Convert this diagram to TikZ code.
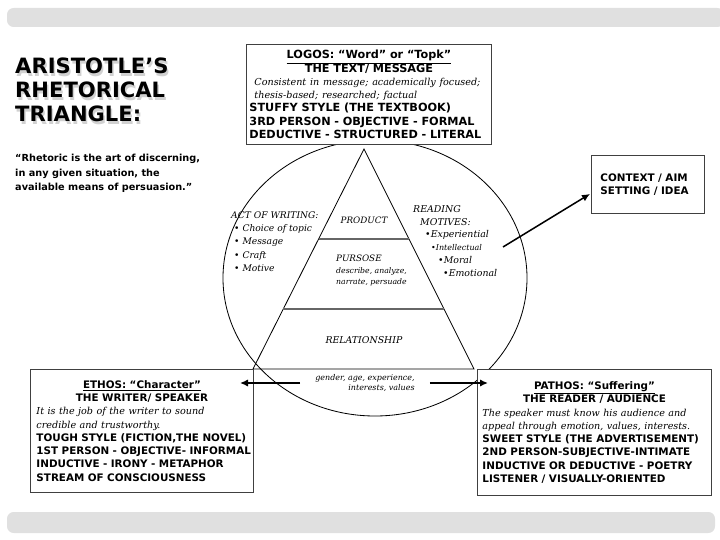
\documentclass[tikz,border=0pt]{standalone}
\usepackage{fontspec}
\usepackage{tikz}
\usetikzlibrary{arrows.meta,calc}

\newfontfamily\heavy{DejaVu Sans}
\newfontfamily\serifit{DejaVu Serif}
\newcommand{\boxfont}{\heavy\bfseries\fontsize{9.6}{11.3}\selectfont}
\newcommand{\smallbox}{\heavy\bfseries\fontsize{8.85}{11.3}\selectfont}
\newcommand{\boxit}{\serifit\mdseries\itshape\fontsize{8.2}{11.3}\selectfont}
\newcommand{\nbl}[1]{\mbox{#1}}

\begin{document}
\begin{tikzpicture}[x=0.03cm, y=-0.03cm,
  band/.style={fill=black!12, rounded corners=0.2cm},
  infobox/.style={draw=black!75, fill=white, line width=0.8pt, anchor=north west, inner ysep=0pt, font=\boxfont},
  title/.style={anchor=north west, align=left, inner sep=0pt, font=\heavy\bfseries\fontsize{18}{20.4}\selectfont},
  tritext/.style={inner sep=0pt, font=\serifit\itshape\fontsize{7.5}{9}\selectfont},
  arrow/.style={-{Latex[length=2.4mm, width=2.2mm]}, line width=1.3pt},
]
\useasboundingbox (0,0) rectangle (720,540);

% slide bands
\fill[band] (7,8) rectangle (724,27);
\fill[band] (7,512) rectangle (715,533);

% title and quote
\node[title, text=black!18] (titleshadow) at (16.5,60.5) {ARISTOTLE’S\\RHETORICAL\\TRIANGLE:};
\node[title] (title) at (15,58) {ARISTOTLE’S\\RHETORICAL\\TRIANGLE:};
\node[anchor=north west, align=left, inner sep=0pt, font=\heavy\bfseries\fontsize{8.3}{12.3}\selectfont] (quote) at (15,154)
  {“Rhetoric is the art of discerning,\\in any given situation, the\\available means of persuasion.”};

% ellipse and triangle
\draw[line width=0.7pt] (375,278) ellipse [x radius=4.56cm, y radius=4.14cm];
\coordinate (apex) at (364,149);
\coordinate (bl) at (253,369);
\coordinate (br) at (474,369);
\draw[line width=0.7pt] (apex) -- (bl) -- (br) -- cycle;
\draw[draw=black!60, line width=1pt] ($(apex)!0.409!(bl)$) -- ($(apex)!0.409!(br)$);
\draw[draw=black!60, line width=1pt] ($(apex)!0.727!(bl)$) -- ($(apex)!0.727!(br)$);

% text in and around the triangle
\node[tritext] (product) at (364,220) {PRODUCT};
\node[tritext, anchor=north west, align=left] (purpose) at (336,255)
  {PURSOSE\\[1pt]{\fontsize{6.6}{12}\selectfont describe, analyze,}\\{\fontsize{6.6}{12}\selectfont narrate, persuade}};
\node[tritext, font=\serifit\itshape\fontsize{8}{9}\selectfont] (relationship) at (364,340) {RELATIONSHIP};
\node[tritext, anchor=north west, align=left, font=\serifit\itshape\fontsize{7.8}{11.5}\selectfont] (writing) at (231,211)
  {ACT OF WRITING:\\\hspace*{0.09cm}\textbullet\ Choice of topic\\\hspace*{0.09cm}\textbullet\ Message\\\hspace*{0.09cm}\textbullet\ Craft\\\hspace*{0.09cm}\textbullet\ Motive};
\node[tritext, anchor=north west, align=left, font=\serifit\itshape\fontsize{8}{11}\selectfont] (reading) at (413,205)
  {READING\\\hspace*{0.21cm}MOTIVES:\\\hspace*{0.36cm}\textbullet Experiential\\\hspace*{0.54cm}{\fontsize{6.8}{11}\selectfont\textbullet Intellectual}\\\hspace*{0.75cm}\textbullet Moral\\\hspace*{0.9cm}\textbullet Emotional};
\node[tritext, font=\serifit\itshape\fontsize{6.8}{8.5}\selectfont, align=right, inner xsep=0.45cm] (relation) at (365,383) {gender, age, experience,\\interests, values};

% the four boxes
\node[infobox, minimum width=7.35cm, minimum height=3.0cm, inner xsep=0.09cm, text width=7.17cm] (logos) at (246,44) {%
  {\centering\underline{LOGOS: “Word” or “Topk”}\\THE TEXT/ MESSAGE\par}
  {\raggedright\boxit\hspace*{0.15cm}Consistent in message; academically focused;\\\hspace*{0.15cm}thesis-based; researched; factual\par}
  {\raggedright\nbl{STUFFY STYLE (THE TEXTBOOK)}\\\nbl{3RD PERSON - OBJECTIVE - FORMAL}\\\nbl{DEDUCTIVE - STRUCTURED - LITERAL}\par}};
\node[infobox, font=\smallbox, minimum width=6.69cm, minimum height=3.69cm, inner xsep=0.18cm, text width=6.33cm] (ethos) at (30,369) {%
  {\centering\underline{ETHOS: “Character”}\\THE WRITER/ SPEAKER\par}
  {\raggedright\boxit It is the job of the writer to sound\\credible and trustworthy.\par}
  {\raggedright\nbl{TOUGH STYLE (FICTION,THE NOVEL)}\\\nbl{1ST PERSON - OBJECTIVE- INFORMAL}\\\nbl{INDUCTIVE - IRONY - METAPHOR}\\\nbl{STREAM OF CONSCIOUSNESS}\par}};
\node[infobox, font=\smallbox, minimum width=7.02cm, minimum height=3.78cm, inner xsep=0.15cm, text width=6.72cm] (pathos) at (477,369) {%
  {\centering\underline{PATHOS: “Suffering”}\\THE READER / AUDIENCE\par}
  {\raggedright\boxit The speaker must know his audience and\\appeal through emotion, values, interests.\par}
  {\raggedright\nbl{SWEET STYLE (THE ADVERTISEMENT)}\\\nbl{2ND PERSON-SUBJECTIVE-INTIMATE}\\\nbl{INDUCTIVE OR DEDUCTIVE - POETRY}\\\nbl{LISTENER / VISUALLY-ORIENTED}\par}};
\node[infobox, font=\smallbox, minimum width=3.39cm, minimum height=1.74cm, inner xsep=0.27cm, text width=2.85cm] (context) at (591,155) {%
  {\raggedright\nbl{CONTEXT / AIM}\\\nbl{SETTING / IDEA}\par}};

% arrows
\coordinate (ethosend) at (240,383);
\coordinate (pathosend) at (488,383);
\coordinate (motivept) at (503,247);
\draw[arrow] (relation.west) -- (ethosend);
\draw[arrow] (relation.east) -- (pathosend);
\draw[arrow, shorten >=1pt] (motivept) -- ($(context.south west)!0.35!(context.north west)$);

\end{tikzpicture}
\end{document}
